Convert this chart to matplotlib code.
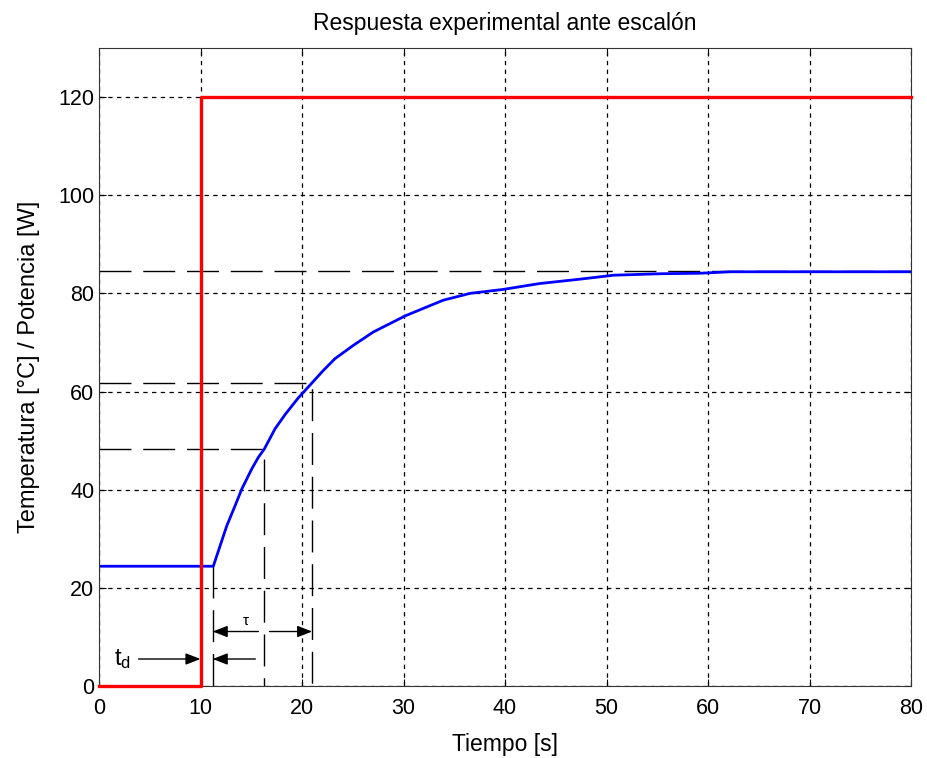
import numpy as np
import matplotlib
matplotlib.use('Agg')
import matplotlib.pyplot as plt

# step input (power)
t_power = [0, 10, 10, 80]
power = [0, 0, 120, 120]

t_temp = [0, 11.26, 11.92, 12.58, 13.4, 14.06, 15.04, 15.7, 16.29, 17.34,
          18.33, 19.63, 20.96, 22.1, 23.25, 25.05, 27.0, 30.15, 33.9, 36.55,
          39.8, 43.4, 47.4, 50.7, 55.3, 59.2, 62.2, 80]
temp = [24.4, 24.4, 28.5, 32.6, 36.7, 40.1, 44.2, 46.6, 48.3, 52.4,
        55.3, 58.7, 61.7, 64.3, 66.7, 69.4, 72.1, 75.4, 78.6, 80.0,
        80.8, 82.0, 82.9, 83.7, 84.0, 84.1, 84.4, 84.4]

# construction lines
t_dead = 11.2
t_28 = 16.3
t_63 = 21.0
y_28 = 48.2
y_63 = 61.7
y_final = 84.6

plt.rcParams['font.family'] = ['Liberation Sans', 'DejaVu Sans']

fig = plt.figure(figsize=(9.27, 7.58), dpi=100)
ax = fig.add_axes([0.1068, 0.095, 0.876, 0.8417])

dash = (0, (23, 8.5))
ax.plot([0, 80], [y_final, y_final], color='black', lw=1, linestyle=dash)
ax.plot([0, t_63, t_63], [y_63, y_63, 0], color='black', lw=1, linestyle=dash)
ax.plot([0, t_28, t_28], [y_28, y_28, 0], color='black', lw=1, linestyle=dash)
ax.plot([t_dead, t_dead], [temp[0], 0], color='black', lw=1, linestyle=dash)

ax.plot(t_power, power, color='red', lw=2.4, clip_on=False, zorder=3)
ax.plot(t_temp, temp, color='blue', lw=2)

arrow = dict(arrowstyle='-|>,head_length=0.9,head_width=0.35', color='black',
             lw=1, shrinkA=0, shrinkB=0)
ax.annotate('', xy=(10, 5.5), xytext=(3.9, 5.5), arrowprops=arrow)
ax.annotate('', xy=(t_dead, 5.5), xytext=(15.4, 5.5), arrowprops=arrow)
ax.annotate('', xy=(t_dead, 11.1), xytext=(15.7, 11.1), arrowprops=arrow)
ax.annotate('', xy=(t_63, 11.1), xytext=(16.8, 11.1), arrowprops=arrow)
ax.text(2.3, 5.5, r'$\mathregular{t_d}$', fontsize=17, ha='center', va='center')
ax.text(14.5, 13.2, 'τ', fontsize=11, ha='center', va='center')

ax.set_xlim(0, 80)
ax.set_ylim(0, 130)
ax.set_xticks(np.arange(0, 81, 10))
ax.set_yticks(np.arange(0, 121, 20))
ax.grid(True, color='black', linestyle=(0, (3.5, 3.5)), lw=0.9)
ax.tick_params(direction='in', top=True, right=True, length=5, labelsize=15.5,
               colors='black')
ax.tick_params(axis='x', pad=9)
for sp in ax.spines.values():
    sp.set_color('#333333')

ax.set_title('Respuesta experimental ante escalón', fontsize=16.5, pad=13)
ax.set_xlabel('Tiempo [s]', fontsize=16.5, labelpad=10)
ax.set_ylabel('Temperatura [°C] / Potencia [W]', fontsize=17, labelpad=13)

fig.savefig('out.png', dpi=100)
